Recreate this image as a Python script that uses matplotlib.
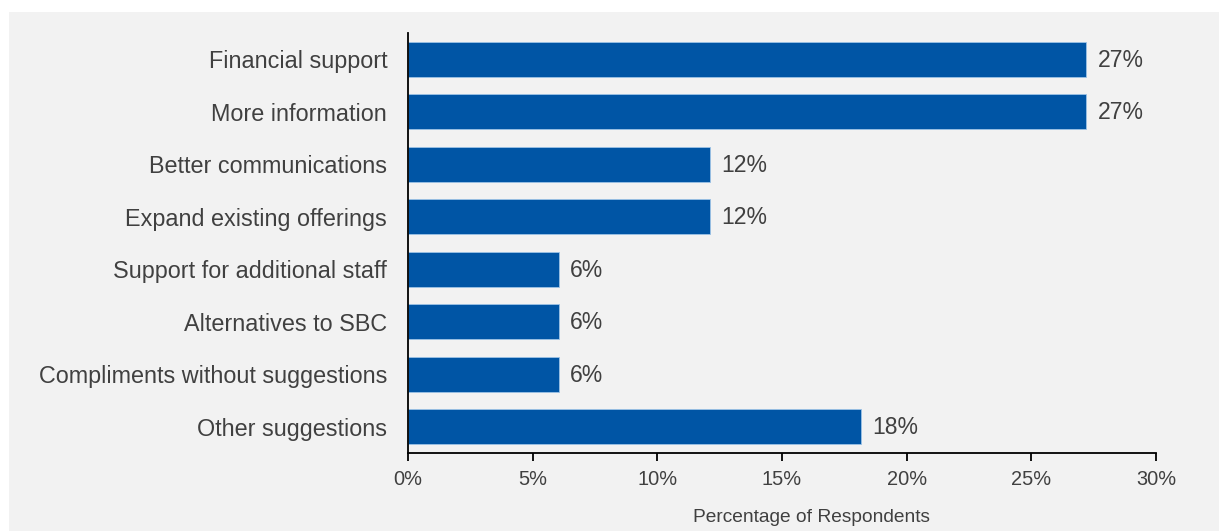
import matplotlib.pyplot as plt
from matplotlib.patches import Rectangle
from matplotlib.ticker import FuncFormatter

categories = [
    "Financial support",
    "More information",
    "Better communications",
    "Expand existing offerings",
    "Support for additional staff",
    "Alternatives to SBC",
    "Compliments without suggestions",
    "Other suggestions",
]
# share of respondents (%)
values = [27.2, 27.2, 12.1, 12.1, 6.05, 6.05, 6.05, 18.15]
xticks = [0, 5, 10, 15, 20, 25, 30]

plt.rcParams['font.family'] = ['Liberation Sans', 'DejaVu Sans']
text_color = '#404040'
bar_color = '#0055a5'
bg = '#f2f2f2'

fig = plt.figure(figsize=(12.19, 5.31), dpi=100, facecolor='white')
# grey panel behind the chart
fig.patches.append(Rectangle((9 / 1219, 0), 1, 1 - 12 / 531, transform=fig.transFigure,
                             facecolor=bg, edgecolor='none', zorder=-10))

ax = fig.add_axes([408 / 1219, 1 - 453 / 531, 748 / 1219, 420 / 531])
ax.set_facecolor(bg)

ypos = list(range(len(categories)))
bars = ax.barh(ypos, values, height=0.67, color=bar_color, edgecolor='#9dc3e6', linewidth=0.6)
for b, v in zip(bars, values):
    ax.text(b.get_width() + 0.45, b.get_y() + b.get_height() / 2 + 0.02, f"{round(v)}%",
            va='center', ha='left', fontsize=16.6, color=text_color)

ax.set_ylim(len(categories) - 0.5, -0.5)
ax.set_xlim(0, 30)
ax.set_yticks(ypos)
ax.set_yticklabels(categories, fontsize=16.8, color=text_color)
ax.set_xticks(xticks)
ax.xaxis.set_major_formatter(FuncFormatter(lambda x, p: f"{x:.0f}%"))
ax.tick_params(axis='x', labelsize=14.4, labelcolor=text_color, direction='out',
               length=6, width=1.3, color='black', pad=6)
ax.tick_params(axis='y', length=0, pad=15)

for s in ['top', 'right']:
    ax.spines[s].set_visible(False)
for s in ['left', 'bottom']:
    ax.spines[s].set_linewidth(1.3)
    ax.spines[s].set_color('black')

ax.set_xlabel("Percentage of Respondents", fontsize=13.8, color=text_color)
ax.xaxis.set_label_coords(0.54, -0.134)

fig.savefig('out.png', dpi=100, facecolor=fig.get_facecolor())
